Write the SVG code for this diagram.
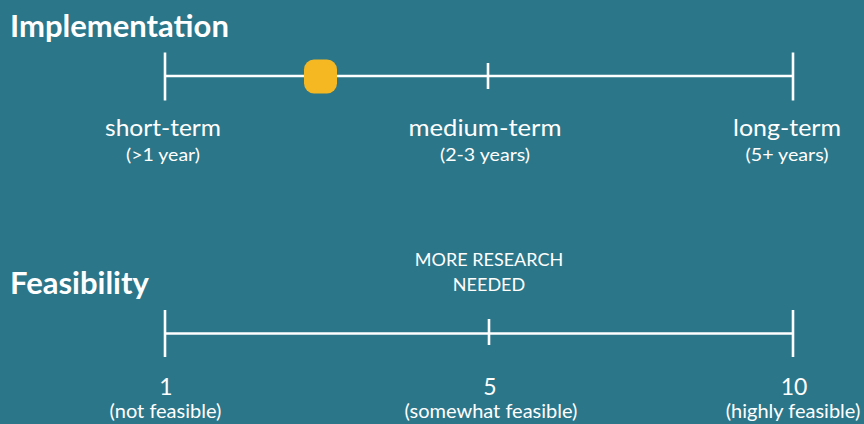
<svg xmlns="http://www.w3.org/2000/svg" width="864" height="424" viewBox="0 0 864 424">
  <style>
    text { font-family: Lato, "Open Sans", "Liberation Sans", sans-serif; fill: #ffffff; }
    .title { font-size: 31px; font-weight: 700; }
    .lbl { font-size: 23px; text-anchor: middle; }
    .sub { font-size: 18px; text-anchor: middle; }
    .num { font-size: 23px; text-anchor: middle; }
    .sub2 { font-size: 20px; text-anchor: middle; }
    .note { font-size: 18px; text-anchor: middle; }
    .axis line { stroke: #ffffff; stroke-width: 2.6; }
  </style>
  <rect width="864" height="424" fill="#2b7689"/>

  <!-- Implementation scale -->
  <text class="title" x="10" y="37">Implementation</text>
  <g id="connectors">
    <g class="axis" id="impl-axis">
      <line x1="165" y1="76" x2="793" y2="76"/>
      <line x1="165" y1="52.5" x2="165" y2="100.5"/>
      <line x1="488" y1="63" x2="488" y2="89"/>
      <line x1="793" y1="52.5" x2="793" y2="100.5"/>
    </g>
    <g class="axis" id="feas-axis">
      <line x1="165" y1="333.5" x2="793" y2="333.5"/>
      <line x1="165" y1="310" x2="165" y2="357"/>
      <line x1="489" y1="319" x2="489" y2="345"/>
      <line x1="793" y1="310" x2="793" y2="357"/>
    </g>
  </g>

  <g id="marker">
    <rect x="304" y="59.5" width="33" height="34" rx="10" fill="#f5b722"/>
  </g>

  <g id="short-term">
    <text class="lbl" x="163" y="136" textLength="116" lengthAdjust="spacingAndGlyphs">short-term</text>
    <text class="sub" x="163" y="161" textLength="74" lengthAdjust="spacingAndGlyphs">(&gt;1 year)</text>
  </g>
  <g id="medium-term">
    <text class="lbl" x="485" y="136" textLength="153" lengthAdjust="spacingAndGlyphs">medium-term</text>
    <text class="sub" x="485" y="161" textLength="90" lengthAdjust="spacingAndGlyphs">(2-3 years)</text>
  </g>
  <g id="long-term">
    <text class="lbl" x="787" y="136" textLength="108" lengthAdjust="spacingAndGlyphs">long-term</text>
    <text class="sub" x="787" y="161" textLength="83" lengthAdjust="spacingAndGlyphs">(5+ years)</text>
  </g>

  <!-- Feasibility scale -->
  <text class="title" x="10" y="294">Feasibility</text>
  <g id="research-note">
    <text class="note" x="489" y="266">MORE RESEARCH</text>
    <text class="note" x="489" y="290.5">NEEDED</text>
  </g>
  <g id="feas-1">
    <text class="num" x="166" y="394.5">1</text>
    <text class="sub2" x="165.5" y="418">(not feasible)</text>
  </g>
  <g id="feas-5">
    <text class="num" x="490" y="394.5">5</text>
    <text class="sub2" x="491" y="418">(somewhat feasible)</text>
  </g>
  <g id="feas-10">
    <text class="num" x="794" y="394.5">10</text>
    <text class="sub2" x="793" y="418">(highly feasible)</text>
  </g>
</svg>
